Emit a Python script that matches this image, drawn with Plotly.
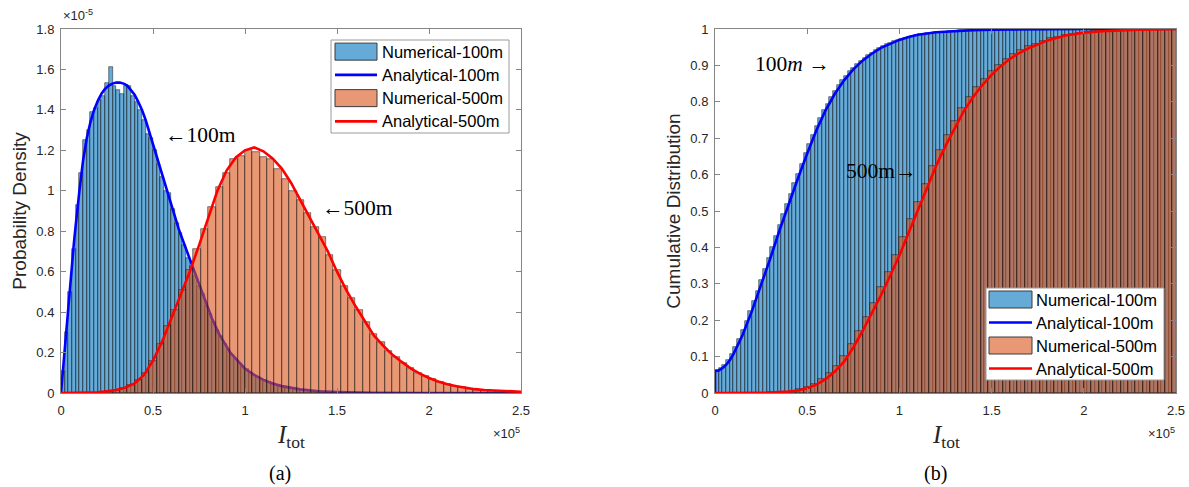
import plotly.graph_objects as go

W, H = 1189, 487

# ------------------------------------------------------------------
# Data (x in units of 1e5, probability density in units of 1e-5)
# ------------------------------------------------------------------
# PDF histogram, 100 m (bin width 0.02e5, first bin starts at 0)
pdf_bw_100 = 0.02
pdf_start_100 = 0.0
pdf_hist_100 = [
    0.11, 0.30, 0.50, 0.71, 0.93, 1.09, 1.25, 1.30, 1.39, 1.41,
    1.45, 1.47, 1.535, 1.61, 1.52, 1.50, 1.48, 1.52, 1.52, 1.47,
    1.44, 1.40, 1.35, 1.28, 1.26, 1.20, 1.13, 1.07, 1.00, 0.99,
    0.91, 0.84, 0.79, 0.73, 0.67, 0.63, 0.58, 0.53, 0.49, 0.43,
    0.39, 0.35, 0.31, 0.28, 0.24, 0.22, 0.19, 0.17, 0.15, 0.13,
    0.12, 0.105, 0.09, 0.08, 0.07, 0.062, 0.054, 0.047, 0.041, 0.035,
    0.031, 0.027, 0.024, 0.021, 0.018, 0.016, 0.014, 0.012, 0.010, 0.009,
    0.008, 0.007, 0.006, 0.005, 0.004, 0.004, 0.003, 0.003, 0.002, 0.002,
    0.002, 0.001, 0.001, 0.001, 0.001,
]
# PDF histogram, 500 m (bin width 0.04e5, first bin starts at 0.12e5)
pdf_bw_500 = 0.04
pdf_start_500 = 0.12
pdf_hist_500 = [
    0.001, 0.002, 0.004, 0.008, 0.015, 0.024, 0.038, 0.062, 0.10, 0.16,
    0.24, 0.33, 0.41, 0.51, 0.61, 0.71, 0.81, 0.92, 1.02, 1.09,
    1.155, 1.17, 1.20, 1.19, 1.165, 1.155, 1.11, 1.06, 1.00, 0.955,
    0.89, 0.82, 0.77, 0.68, 0.61, 0.53, 0.47, 0.41, 0.35, 0.29,
    0.25, 0.21, 0.18, 0.15, 0.125, 0.10, 0.085, 0.068, 0.056, 0.045,
    0.036, 0.028, 0.022, 0.017, 0.014, 0.011, 0.009, 0.007, 0.006, 0.005,
]
# Analytical PDF curves
pdf_x_100 = [0, 0.01, 0.02, 0.03, 0.04, 0.05, 0.06, 0.07, 0.08, 0.09, 0.10, 0.12, 0.14,
             0.16, 0.18, 0.20, 0.22, 0.24, 0.26, 0.28, 0.30, 0.32, 0.34, 0.36, 0.38,
             0.40, 0.42, 0.44, 0.46, 0.48, 0.50, 0.52, 0.54, 0.56, 0.58, 0.60, 0.62,
             0.64, 0.66, 0.68, 0.70, 0.72, 0.74, 0.76, 0.78, 0.80, 0.82, 0.84, 0.86,
             0.88, 0.90, 0.92, 0.94, 0.96, 0.98, 1.00, 1.05, 1.10, 1.15, 1.20, 1.30,
             1.40, 1.50, 1.70, 2.00, 2.50]
pdf_y_100 = [0, 0.11, 0.22, 0.33, 0.44, 0.54, 0.64, 0.74, 0.83, 0.92, 1.00, 1.15, 1.26,
             1.34, 1.40, 1.445, 1.48, 1.505, 1.52, 1.53, 1.535, 1.535, 1.53, 1.52, 1.50,
             1.475, 1.44, 1.40, 1.35, 1.29, 1.23, 1.17, 1.10, 1.04, 0.98, 0.92, 0.86,
             0.81, 0.76, 0.71, 0.66, 0.61, 0.56, 0.51, 0.46, 0.41, 0.37, 0.33, 0.29,
             0.26, 0.23, 0.20, 0.18, 0.16, 0.14, 0.12, 0.09, 0.065, 0.047, 0.034, 0.018,
             0.009, 0.005, 0.001, 0.0, 0.0]
pdf_x_500 = [0, 0.1, 0.2, 0.25, 0.3, 0.35, 0.4, 0.45, 0.5, 0.55, 0.6, 0.65, 0.7, 0.75,
             0.8, 0.85, 0.9, 0.95, 1.0, 1.05, 1.1, 1.15, 1.2, 1.25, 1.3, 1.35, 1.4, 1.45,
             1.5, 1.55, 1.6, 1.65, 1.7, 1.75, 1.8, 1.85, 1.9, 1.95, 2.0, 2.05, 2.1, 2.15,
             2.2, 2.25, 2.3, 2.35, 2.4, 2.45, 2.5]
pdf_y_500 = [0, 0.0, 0.003, 0.008, 0.015, 0.027, 0.047, 0.088, 0.16, 0.255, 0.37, 0.485,
             0.60, 0.73, 0.86, 1.00, 1.10, 1.165, 1.20, 1.214, 1.195, 1.16, 1.11, 1.04,
             0.955, 0.87, 0.79, 0.70, 0.60, 0.51, 0.43, 0.355, 0.285, 0.235, 0.19, 0.155,
             0.122, 0.096, 0.074, 0.057, 0.043, 0.033, 0.025, 0.019, 0.015, 0.012, 0.009,
             0.007, 0.006]

# CDF histogram, 100 m (same bins as PDF, up to 2.5e5)
cdf_hist_100 = [
    0.062, 0.068, 0.077, 0.090, 0.107, 0.127, 0.149, 0.173, 0.199, 0.225,
    0.253, 0.281, 0.310, 0.340, 0.370, 0.400, 0.432, 0.462, 0.492, 0.520,
    0.548, 0.576, 0.603, 0.630, 0.658, 0.684, 0.709, 0.733, 0.756, 0.777,
    0.795, 0.813, 0.829, 0.845, 0.859, 0.872, 0.884, 0.894, 0.904, 0.913,
    0.921, 0.928, 0.935, 0.942, 0.948, 0.953, 0.958, 0.962, 0.966, 0.970,
    0.973, 0.976, 0.979, 0.982, 0.984, 0.986, 0.987, 0.989, 0.990, 0.991,
    0.992, 0.993, 0.993, 0.994, 0.995, 0.995, 0.996, 0.996, 0.997, 0.997,
    0.997, 0.997, 0.998, 0.998, 0.998, 0.998, 0.998, 0.998, 0.999, 0.999,
    0.999, 0.999, 0.999, 0.999, 0.999, 0.999, 0.999, 0.999, 0.999, 0.999,
    1.0, 1.0, 1.0, 1.0, 1.0, 1.0, 1.0, 1.0, 1.0, 1.0,
    1.0, 1.0, 1.0, 1.0, 1.0, 1.0, 1.0, 1.0, 1.0, 1.0,
    1.0, 1.0, 1.0, 1.0, 1.0, 1.0, 1.0, 1.0, 1.0, 1.0,
    1.0, 1.0, 1.0, 1.0, 1.0,
]
# CDF histogram, 500 m (same bins as PDF)
cdf_hist_500 = [
    0.0001, 0.0002, 0.0005, 0.0008, 0.0015, 0.0025, 0.004, 0.0065, 0.011, 0.017,
    0.025, 0.038, 0.054, 0.075, 0.102, 0.134, 0.170, 0.208, 0.248, 0.290,
    0.333, 0.378, 0.428, 0.477, 0.525, 0.575, 0.625, 0.668, 0.710, 0.748,
    0.783, 0.813, 0.840, 0.863, 0.884, 0.902, 0.918, 0.931, 0.942, 0.952,
    0.960, 0.968, 0.974, 0.979, 0.983, 0.987, 0.990, 0.992, 0.994, 0.995,
    0.996, 0.997, 0.998, 0.998, 0.999, 0.999, 0.999, 1.0, 1.0, 1.0,
]
# Analytical CDF curves
cdf_x_100 = [0, 0, 0.02, 0.04, 0.06, 0.08, 0.10, 0.12, 0.15, 0.2, 0.25, 0.3, 0.35, 0.4,
             0.45, 0.5, 0.55, 0.6, 0.65, 0.7, 0.75, 0.8, 0.85, 0.9, 0.95, 1.0, 1.05,
             1.1, 1.2, 1.3, 1.4, 1.5, 1.7, 2.0, 2.5]
cdf_y_100 = [0, 0.06, 0.062, 0.068, 0.077, 0.090, 0.107, 0.127, 0.16, 0.225, 0.295,
             0.370, 0.447, 0.520, 0.590, 0.658, 0.722, 0.777, 0.822, 0.859, 0.889,
             0.913, 0.932, 0.948, 0.960, 0.970, 0.978, 0.984, 0.991, 0.995, 0.997,
             0.998, 0.999, 1.0, 1.0]
cdf_x_500 = [0, 0.2, 0.3, 0.4, 0.45, 0.5, 0.55, 0.6, 0.65, 0.7, 0.75, 0.8, 0.85, 0.9,
             0.95, 1.0, 1.05, 1.1, 1.15, 1.2, 1.25, 1.3, 1.35, 1.4, 1.45, 1.5, 1.55,
             1.6, 1.65, 1.7, 1.8, 1.9, 2.0, 2.1, 2.2, 2.3, 2.4, 2.5]
cdf_y_500 = [0, 0.0002, 0.001, 0.004, 0.007, 0.013, 0.023, 0.038, 0.059, 0.086, 0.125,
             0.170, 0.218, 0.268, 0.322, 0.378, 0.440, 0.500, 0.563, 0.625, 0.679,
             0.729, 0.775, 0.813, 0.846, 0.874, 0.898, 0.918, 0.934, 0.947, 0.968,
             0.982, 0.990, 0.994, 0.997, 0.998, 0.999, 1.0]

names = ["Numerical-100m", "Analytical-100m", "Numerical-500m", "Analytical-500m"]


def centers(start, bw, n):
    return [start + bw * (i + 0.5) for i in range(n)]


# ------------------------------------------------------------------
# Styling
# ------------------------------------------------------------------
BLUE_FACE = "rgba(0,114,189,0.6)"
ORANGE_FACE = "rgba(217,83,25,0.6)"
BLUE_LINE = "rgb(0,0,255)"
RED_LINE = "rgb(255,0,0)"
EDGE = dict(color="rgba(20,20,20,0.85)", width=0.6)
SANS = "Liberation Sans, Arial, Helvetica, sans-serif"
SERIF = "Liberation Serif, Times New Roman, DejaVu Serif, serif"
AX_COL = "#858585"
TXT_COL = "#262626"

fig = go.Figure()


def add_panel(xa, ya, xo, yo, h100, h500, lx100, ly100, lx500, ly500):
    fig.add_trace(go.Bar(x=centers(pdf_start_100, pdf_bw_100, len(h100)), y=h100,
                         width=pdf_bw_100, marker=dict(color=BLUE_FACE, line=EDGE),
                         name=names[0], xaxis=xa, yaxis=ya, showlegend=False))
    fig.add_trace(go.Scatter(x=lx100, y=ly100, mode="lines",
                             line=dict(color=BLUE_LINE, width=2.6),
                             name=names[1], xaxis=xa, yaxis=ya, showlegend=False))
    fig.add_trace(go.Bar(x=centers(pdf_start_500, pdf_bw_500, len(h500)), y=h500,
                         width=pdf_bw_500, marker=dict(color=ORANGE_FACE, line=EDGE),
                         name=names[2], xaxis=xo, yaxis=yo, showlegend=False))
    fig.add_trace(go.Scatter(x=lx500, y=ly500, mode="lines",
                             line=dict(color=RED_LINE, width=2.6),
                             name=names[3], xaxis=xo, yaxis=yo, showlegend=False))


add_panel("x", "y", "x3", "y3", pdf_hist_100, pdf_hist_500,
          pdf_x_100, pdf_y_100, pdf_x_500, pdf_y_500)
add_panel("x2", "y2", "x4", "y4", cdf_hist_100, cdf_hist_500,
          cdf_x_100, cdf_y_100, cdf_x_500, cdf_y_500)


def px(x):
    return x / W


def py(y):
    return 1 - y / H


def base_x(domain, anchor):
    return dict(domain=domain, anchor=anchor, range=[0, 2.5], dtick=0.5, tick0=0,
                automargin=False, ticklabelstandoff=5,
                showline=True, linecolor=AX_COL, linewidth=1, mirror="ticks",
                ticks="inside", ticklen=5, tickcolor=AX_COL, showgrid=False,
                zeroline=False, tickfont=dict(family=SANS, size=13, color=TXT_COL))


def base_y(domain, anchor, rng, dtick, title):
    return dict(domain=domain, anchor=anchor, range=rng, dtick=dtick, tick0=0,
                automargin=False,
                showline=True, linecolor=AX_COL, linewidth=1, mirror="ticks",
                ticks="inside", ticklen=5, tickcolor=AX_COL, showgrid=False,
                zeroline=False, ticklabelstandoff=3,
                tickfont=dict(family=SANS, size=13, color=TXT_COL),
                title=dict(text=title, font=dict(family=SANS, size=19, color=TXT_COL),
                           standoff=4))


ydom = [py(393), py(29)]
fig.update_layout(
    width=W, height=H, margin=dict(l=0, r=0, t=0, b=0, autoexpand=False),
    paper_bgcolor="white", plot_bgcolor="white",
    barmode="overlay", bargap=0, showlegend=False,
    xaxis=base_x([px(61), px(521)], "y"),
    yaxis=base_y(ydom, "x", [0, 1.8], 0.2, "Probability Density"),
    xaxis2=base_x([px(715), px(1176)], "y2"),
    yaxis2=base_y(ydom, "x2", [0, 1.0], 0.1, "Cumulative Distribution"),
    xaxis3=dict(overlaying="x", anchor="y3", range=[0, 2.5], visible=False),
    yaxis3=dict(overlaying="y", anchor="x3", range=[0, 1.8], visible=False),
    xaxis4=dict(overlaying="x2", anchor="y4", range=[0, 2.5], visible=False),
    yaxis4=dict(overlaying="y2", anchor="x4", range=[0, 1.0], visible=False),
)

ann = []
shapes = []


# ---- legends (drawn like the MATLAB legend boxes) ----
def add_legend(box, patch_x0, patch_x1, text_x):
    x0, x1, y0, y1 = box
    shapes.append(dict(type="rect", xref="paper", yref="paper", layer="above",
                       x0=px(x0), x1=px(x1), y0=py(y1), y1=py(y0),
                       fillcolor="white", line=dict(color="#9a9a9a", width=1)))
    row_h = (y1 - y0) / 4.0
    styles = [("patch", BLUE_FACE), ("line", BLUE_LINE),
              ("patch", ORANGE_FACE), ("line", RED_LINE)]
    for k, (kind, col) in enumerate(styles):
        cy = y0 + row_h * (k + 0.5)
        if kind == "patch":
            shapes.append(dict(type="rect", xref="paper", yref="paper", layer="above",
                               x0=px(patch_x0), x1=px(patch_x1),
                               y0=py(cy + 8.5), y1=py(cy - 8.5),
                               fillcolor=col, line=dict(color="#3a3a3a", width=1)))
        else:
            shapes.append(dict(type="line", xref="paper", yref="paper", layer="above",
                               x0=px(patch_x0), x1=px(patch_x1), y0=py(cy), y1=py(cy),
                               line=dict(color=col, width=2.6)))
        ann.append(dict(text=names[k], x=px(text_x), y=py(cy), xref="paper",
                        yref="paper", xanchor="left", yanchor="middle",
                        showarrow=False,
                        font=dict(family=SANS, size=16.5, color="black")))


add_legend((331, 509, 40, 133), 335, 377, 380)
add_legend((986, 1164, 288, 380), 989, 1032, 1034)

# x-axis labels
for cx in (291, 945.5):
    ann.append(dict(text="<i>I</i><sub>tot</sub>", x=px(cx), y=py(436), xref="paper",
                    yref="paper", xanchor="center", yanchor="middle", showarrow=False,
                    font=dict(family=SERIF, size=25, color=TXT_COL)))
# exponent labels
for rx in (522, 1177):
    ann.append(dict(text="×10<sup>5</sup>", x=px(rx), y=py(433), xref="paper", yref="paper",
                    xanchor="right", yanchor="middle", showarrow=False,
                    font=dict(family=SANS, size=13, color=TXT_COL)))
ann.append(dict(text="×10<sup>-5</sup>", x=px(61), y=py(25), xref="paper", yref="paper",
                xanchor="left", yanchor="bottom", showarrow=False,
                font=dict(family=SANS, size=13, color=TXT_COL)))
# captions
ann.append(dict(text="(a)", x=px(280), y=py(473), xref="paper", yref="paper",
                xanchor="center", yanchor="middle", showarrow=False,
                font=dict(family=SERIF, size=20, color="black")))
ann.append(dict(text="(b)", x=px(935), y=py(473), xref="paper", yref="paper",
                xanchor="center", yanchor="middle", showarrow=False,
                font=dict(family=SERIF, size=20, color="black")))
# curve labels
ann.append(dict(text="←100m", x=0.554, y=1.275, xref="x", yref="y",
                xanchor="left", yanchor="middle", showarrow=False,
                font=dict(family=SERIF, size=21.5, color="black")))
ann.append(dict(text="←500m", x=1.41, y=0.915, xref="x", yref="y",
                xanchor="left", yanchor="middle", showarrow=False,
                font=dict(family=SERIF, size=21.5, color="black")))
ann.append(dict(text="100<i>m</i> →", x=0.206, y=0.905, xref="x2",
                yref="y2", xanchor="left", yanchor="middle", showarrow=False,
                font=dict(family=SERIF, size=21.5, color="black")))
ann.append(dict(text="500m→", x=0.70, y=0.61, xref="x2", yref="y2",
                xanchor="left", yanchor="middle", showarrow=False,
                font=dict(family=SERIF, size=21.5, color="black")))

fig.update_layout(annotations=ann, shapes=shapes)

fig.write_html("out.html")
